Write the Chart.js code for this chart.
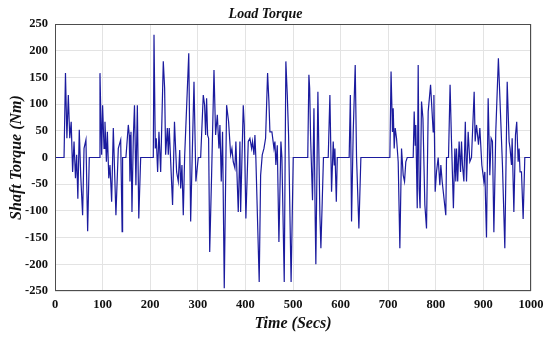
<!DOCTYPE html>
<html lang="en">
<head>
  <meta charset="UTF-8">
  <title>Load Torque</title>
  <script src="https://cdn.jsdelivr.net/npm/chart.js"></script>
  <style>
    body { margin: 0; background: #ffffff; }
    #wrap { width: 550px; height: 337px; }
  </style>
</head>
<body>
  <div id="wrap"><canvas id="torqueChart"></canvas></div>

  <script>
    // time (s) and shaft torque (Nm)
    const timeSecs = [
      0, 19, 22, 25, 28, 31, 34, 37, 40, 43, 45.5, 48, 51, 54, 58, 61, 65, 68.6, 72, 93,
      94.5, 98, 100, 103, 105, 108, 110, 113, 115.5, 119, 122.5, 128, 133, 138, 141, 142, 149, 154, 156, 157.5,
      159.6, 161.7, 164.5, 167, 170, 173, 176, 180, 206.5,
      208, 210.7, 212.8, 215.6, 218.4, 222, 227.5, 230.3, 232.4, 236, 238, 240, 247, 251, 255.5, 259, 262, 264,
      266.7, 269.5, 272.3, 281, 285, 292, 296, 301, 306,
      311.5, 314.3, 316.4, 318.5, 320.6, 322.7, 325, 329, 334, 337.4, 341, 344.4, 346.5, 349.3, 352, 355.6,
      360.5, 364.7, 369, 371.7, 374.5, 378, 380, 385, 388.5, 390, 395.5, 397.6, 401, 406,
      409.5, 413, 415, 418, 420, 422, 429, 432, 435.4, 439, 442.4, 446.6, 449.4, 451.5, 455.7, 460, 462, 464,
      467, 470.4, 474.6, 476.7, 481.6, 485, 488, 490.7, 496, 500.5, 531,
      533.4, 535, 537, 541, 544, 546.7, 548, 552.3, 556.5, 558.6, 561.4, 564, 574, 577.5, 581, 584.5, 586.6,
      588, 591, 593, 618, 620.5, 623, 626.5, 630.7, 633.5, 638.4, 642.6, 703.5,
      706, 709, 710.5, 712.6, 714.7, 717.5, 721, 724.5, 728, 731.5, 734.3, 737, 740, 752.5,
      754.6, 756.7, 758, 761, 763, 765, 767, 770, 773, 777, 780.5, 784, 789, 794.5, 796, 798.7, 801.5, 805,
      808.5, 810.6, 813.4, 821, 822.5, 826.7, 830,
      833, 837, 840, 842, 843.5, 846, 849, 852, 854, 856, 859, 862, 864.5, 868, 871.5, 875, 880.6, 882.7,
      885.5, 889.7, 892.5, 896.7, 901, 903, 906.5, 910, 913.5, 916.3, 919, 922, 926, 931.5, 936, 940, 945,
      950, 954, 956, 959, 960.4, 964, 967.4, 970, 973, 975, 977, 980, 983.5, 987, 1000
    ];
    const torqueNm = [
      0, 0, 158, 36, 117, 36, 67, -27, 30, -39, 5, -77, 52, -33, -108, 17, 33, -138, 0, 0,
      158, 5, 98, 17, 67, -8, 48, -39, -14, -83, 55, -108, 17, 33, -139, 0, 0, 61, 42, -45,
      48, -102, 36, 98, -52, 98, -114, 0, 0,
      230, 17, 36, -27, 48, -27, 180, 130, 5, 55, 5, 55, -89, 67, -27, -45, 14, -58,
      -14, -108, 0, 195, -120, 142, -45, 0, 0,
      117, 98, 42, 111, 42, 36, -177, -33, 164, 42, 80, 17, 61, -45, 48, -245,
      98, 67, 5, 17, -8, -20, 30, -102, 30, -102, 98, 61, -114, 30,
      36, 17, 30, 5, 42, -2, -233, -33, 5, 17, 36, 158, 105, 48, 48, 17, 30, -14,
      23, -158, 30, 0, -233, 180, 117, 42, -233, 0, 0,
      155, 130, 36, -80, 92, -120, -200, 123, -108, -170, -83, 0, 0, 117, -64, 30, -14,
      17, -83, 0, 0, 117, -120, 48, 173, 0, -133, 0, 0,
      161, 48, 92, 17, 55, 36, -8, -170, 17, -33, -45, -8, 0, 0,
      86, 23, 61, -95, 173, -58, -95, 105, 73, -89, -133, 86, 136, 48, 117, -64, -27, 0,
      -52, -14, -45, -108, 0, 0, 136,
      30, -95, 17, -45, 17, -45, 30, -27, 30, -14, -45, 67, -45, 48, -8, 0, 123, 30,
      61, 24, 55, -14, -45, -27, -150, 111, -33, 36, 30, -140, 48, 186, 80, -14, -170,
      142, 30, 17, -14, 36, -102, 42, 67, -8, 17, -27, -27, -115, 0, 0
    ];
    const xTicks = [0, 100, 200, 300, 400, 500, 600, 700, 800, 900, 1000];
    const yTicks = [-250, -200, -150, -100, -50, 0, 50, 100, 150, 200, 250];

    const points = timeSecs.map((t, i) => ({ x: t, y: torqueNm[i] }));

    // dark frame round the plot area, like the matlab box
    const frame = {
      id: 'frame',
      afterDraw(chart) {
        const { ctx, chartArea: a } = chart;
        ctx.save();
        ctx.strokeStyle = '#4d4d4d';
        ctx.lineWidth = 1;
        ctx.strokeRect(a.left + 0.5, a.top + 0.5, a.right - a.left - 1, a.bottom - a.top - 1);
        ctx.restore();
      }
    };

    const serif = 'Liberation Serif, Times New Roman, serif';

    new Chart(document.getElementById('torqueChart'), {
      type: 'line',
      data: {
        datasets: [{
          label: 'Shaft Torque',
          data: points,
          borderColor: '#1b1b9e',
          borderWidth: 1.2,
          pointRadius: 0,
          tension: 0,
          fill: false
        }]
      },
      options: {
        responsive: true,
        maintainAspectRatio: false,
        animation: false,
        layout: { padding: { left: 0, right: 19, top: 0, bottom: 0 } },
        plugins: {
          legend: { display: false },
          tooltip: { enabled: false },
          title: {
            display: true,
            text: 'Load Torque',
            color: '#111',
            font: { family: serif, size: 14, style: 'italic', weight: 'bold' },
            padding: { top: 6, bottom: 1.2 }
          }
        },
        scales: {
          x: {
            type: 'linear',
            min: 0,
            max: 1000,
            afterFit(scale) { scale.height = 46; },
            afterBuildTicks(scale) { scale.ticks = xTicks.map(v => ({ value: v })); },
            grid: { color: '#e3e3e3', drawTicks: false },
            border: { display: false },
            ticks: {
              color: '#111',
              padding: 6,
              maxRotation: 0,
              callback: v => String(v),
              font: { family: serif, size: 12.5, weight: 'bold' }
            },
            title: {
              display: true,
              text: 'Time (Secs)',
              color: '#111',
              font: { family: serif, size: 16, style: 'italic', weight: 'bold' },
              padding: { top: 0, bottom: 4 }
            }
          },
          y: {
            min: -250,
            max: 250,
            afterFit(scale) { scale.width = 55; },
            afterBuildTicks(scale) { scale.ticks = yTicks.map(v => ({ value: v })); },
            grid: { color: '#e3e3e3', drawTicks: false },
            border: { display: false },
            ticks: {
              color: '#111',
              padding: 7,
              callback: v => String(v),
              font: { family: serif, size: 12.5, weight: 'bold' }
            },
            title: {
              display: true,
              text: 'Shaft Torque (Nm)',
              color: '#111',
              font: { family: serif, size: 16, style: 'italic', weight: 'bold' },
              padding: { top: 7, bottom: 0 }
            }
          }
        }
      },
      plugins: [frame]
    });
  </script>
</body>
</html>
